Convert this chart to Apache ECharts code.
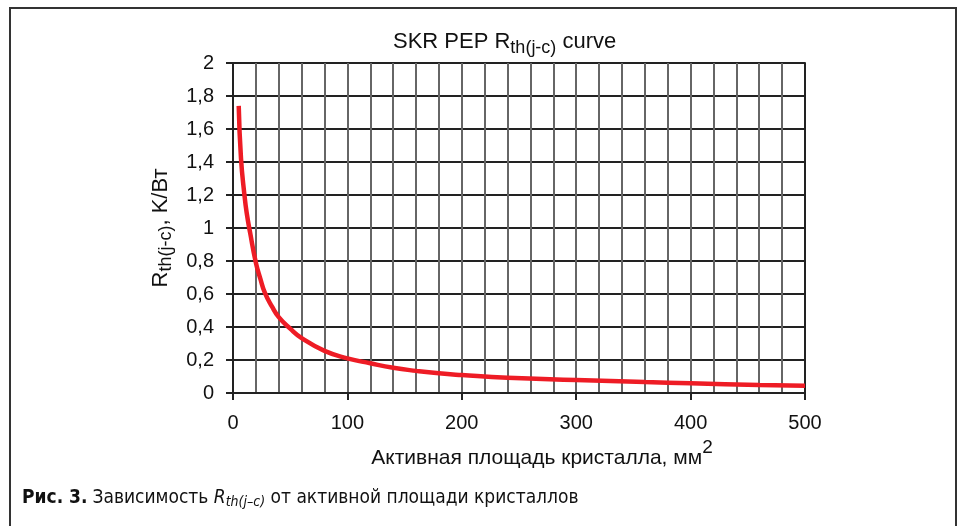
<!DOCTYPE html>
<html>
<head>
<meta charset="utf-8">
<script src="https://cdn.jsdelivr.net/npm/echarts@6/dist/echarts.min.js"></script>
<style>
html,body{margin:0;padding:0;background:#fff;}
#chart{width:959px;height:526px;}
</style>
</head>
<body>
<div id="chart"></div>
<script>
// Active die area, mm^2
const areas = [5, 7, 10, 12, 15, 20, 24, 28, 34, 40, 50, 60, 80, 100, 120, 140, 160, 180, 200, 240, 300, 360, 400, 460, 500];
// Rth(j-c), K/W
const rthValues = [1.74, 1.42, 1.2, 1.09, 0.97, 0.79, 0.69, 0.605, 0.525, 0.46, 0.39, 0.333, 0.255, 0.21, 0.18, 0.153, 0.134, 0.119, 0.109, 0.093, 0.079, 0.066, 0.059, 0.049, 0.044];
const xTickLabels = ['0', '100', '200', '300', '400', '500'];
const yTickLabels = ['0', '0,2', '0,4', '0,6', '0,8', '1', '1,2', '1,4', '1,6', '1,8', '2'];

const FONT = '"Liberation Sans", Arial, sans-serif';
const CAPFONT = '"Liberation Sans Narrow", "DejaVu Sans Condensed", "Liberation Sans", sans-serif';

const chart = echarts.init(document.getElementById('chart'), null, {renderer: 'canvas'});

const option = {
  backgroundColor: '#fff',
  animation: false,
  title: [
    {
      text: '{a|SKR PEP R}{b|th(j-c)}{a| curve}',
      left: 393,
      top: 31,
      padding: 0,
      textStyle: {
        fontWeight: 'normal',
        rich: {
          a: {fontFamily: FONT, fontWeight: 'normal', fontSize: 22, color: '#111', lineHeight: 24, verticalAlign: 'top'},
          b: {fontFamily: FONT, fontWeight: 'normal', fontSize: 18, color: '#111', lineHeight: 24, padding: [8, 0, 0, 0], verticalAlign: 'top'}
        }
      }
    },
    {
      text: '{p|Рис. 3.} {t|Зависимость }{r|R}{s|th(j–c)}{t| от активной площади кристаллов}',
      left: 22,
      top: 489,
      padding: 0,
      textStyle: {
        fontWeight: 'normal',
        rich: {
          p: {fontFamily: CAPFONT, fontWeight: 'bold', fontSize: 19, color: '#111', lineHeight: 22, verticalAlign: 'top'},
          t: {fontFamily: CAPFONT, fontWeight: 'normal', fontSize: 19, color: '#111', lineHeight: 22, verticalAlign: 'top'},
          r: {fontFamily: CAPFONT, fontWeight: 'normal', fontStyle: 'italic', fontSize: 19, color: '#111', lineHeight: 22, verticalAlign: 'top'},
          s: {fontFamily: CAPFONT, fontWeight: 'normal', fontStyle: 'italic', fontSize: 14, color: '#111', lineHeight: 22, padding: [6, 0, 0, 0], verticalAlign: 'top'}
        }
      }
    }
  ],
  graphic: [
    {
      type: 'polyline',
      silent: true,
      shape: {points: [[10, 526], [10, 8], [956, 8], [956, 526]]},
      style: {stroke: '#333', lineWidth: 2, fill: null}
    }
  ],
  grid: {left: 233, right: 154, top: 63, bottom: 133, containLabel: false},
  xAxis: [
    {
      type: 'value', min: 0, max: 500, interval: 20,
      axisLine: {show: false},
      axisTick: {show: false},
      axisLabel: {show: false},
      splitLine: {show: true, lineStyle: {color: '#666', width: 2}}
    },
    {
      type: 'value', min: 0, max: 500, interval: 100, position: 'bottom',
      axisLine: {show: true, onZero: false, lineStyle: {color: '#222', width: 2}},
      axisTick: {show: true, length: 7, lineStyle: {color: '#222', width: 2}},
      axisLabel: {
        show: true, margin: 20, fontFamily: FONT, fontSize: 20, color: '#111',
        formatter: function (v) { return xTickLabels[Math.round(v / 100)]; }
      },
      splitLine: {show: false},
      name: '{a|Активная площадь кристалла, мм}{s|2}',
      nameLocation: 'middle',
      nameGap: 45,
      nameTextStyle: {
        padding: [0, 0, 0, 46],
        rich: {
          a: {fontFamily: FONT, fontSize: 21, color: '#111', lineHeight: 22, verticalAlign: 'bottom'},
          s: {fontFamily: FONT, fontSize: 19, color: '#111', lineHeight: 20, padding: [0, 0, 12, 0], verticalAlign: 'bottom'}
        }
      }
    }
  ],
  yAxis: [
    {
      type: 'value', min: 0, max: 2, interval: 0.2,
      axisLine: {show: true, onZero: false, lineStyle: {color: '#222', width: 2}},
      axisTick: {show: true, length: 7, lineStyle: {color: '#222', width: 2}},
      axisLabel: {
        margin: 19, fontFamily: FONT, fontSize: 20, color: '#111',
        formatter: function (v) { return yTickLabels[Math.round(v / 0.2)]; }
      },
      splitLine: {show: true, lineStyle: {color: '#222', width: 2}},
      name: '{a|R}{b|th(j-c)}{a|, K/Вт}',
      nameLocation: 'middle',
      nameGap: 60,
      nameRotate: 90,
      nameTextStyle: {
        rich: {
          a: {fontFamily: FONT, fontSize: 22, color: '#111', lineHeight: 22, verticalAlign: 'top'},
          b: {fontFamily: FONT, fontSize: 18, color: '#111', lineHeight: 22, padding: [7, 0, 0, 0], verticalAlign: 'top'}
        }
      }
    },
    {
      type: 'value', min: 0, max: 2, interval: 0.2, position: 'right',
      axisLine: {show: true, onZero: false, lineStyle: {color: '#222', width: 2}},
      axisTick: {show: false},
      axisLabel: {show: false},
      splitLine: {show: false}
    }
  ],
  series: [
    {
      type: 'line',
      xAxisIndex: 0,
      yAxisIndex: 0,
      data: areas.map(function (a, i) { return [a, rthValues[i]]; }),
      smooth: 0.5,
      symbol: 'none',
      lineStyle: {color: '#ee1c25', width: 4.5},
      z: 5
    }
  ]
};
chart.setOption(option);
</script>
</body>
</html>
